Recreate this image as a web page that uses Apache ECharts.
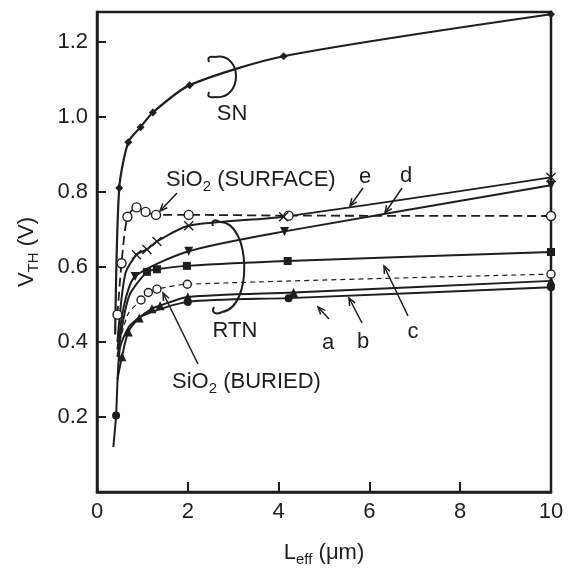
<!DOCTYPE html>
<html><head><meta charset="utf-8">
<script src="https://cdn.jsdelivr.net/npm/echarts@6/dist/echarts.min.js"></script>
<style>html,body{margin:0;padding:0;background:#fff}#c{width:582px;height:572px}</style>
</head><body><div id="c"></div>
<script>
// ---- data (L_eff in um, V_TH in V); *Mark: 1 = point drawn with a marker ----
const snX   = [0.40, 0.49, 0.69, 0.96, 1.23, 2.04, 4.11, 10];
const snY   = [0.42, 0.811, 0.933, 0.973, 1.012, 1.085, 1.162, 1.274];
const snMark= [0, 1, 1, 1, 1, 1, 1, 1];

const surfX   = [0.45, 0.54, 0.67, 0.87, 1.07, 1.30, 2.02, 4.22, 10];
const surfY   = [0.473, 0.61, 0.734, 0.759, 0.747, 0.739, 0.739, 0.737, 0.736];
const surfMark= [1, 1, 1, 1, 1, 1, 1, 1, 1];

const eX   = [0.45, 0.62, 0.87, 1.10, 1.32, 2.02, 4.11, 10];
const eY   = [0.40, 0.58, 0.633, 0.647, 0.668, 0.710, 0.734, 0.839];
const eMark= [0, 0, 1, 1, 1, 1, 1, 1];

const dX   = [0.45, 0.60, 0.84, 2.02, 4.13, 10];
const dY   = [0.38, 0.50, 0.575, 0.642, 0.695, 0.818];
const dMark= [0, 0, 1, 1, 1, 1];

const cX   = [0.45, 0.70, 1.10, 1.32, 1.98, 4.20, 10];
const cY   = [0.36, 0.52, 0.587, 0.594, 0.603, 0.616, 0.640];
const cMark= [0, 0, 1, 1, 1, 1, 1];

const burX   = [0.50, 0.69, 0.97, 1.13, 1.32, 1.99, 10];
const burY   = [0.40, 0.476, 0.512, 0.532, 0.541, 0.554, 0.581];
const burMark= [0, 0, 1, 1, 1, 1, 1];

const bX   = [0.45, 0.55, 0.69, 0.93, 1.21, 1.39, 2.0, 4.33, 10];
const bY   = [0.30, 0.361, 0.427, 0.464, 0.489, 0.497, 0.52, 0.532, 0.563];
const bMark= [0, 1, 1, 1, 1, 1, 1, 1, 1];

const aX   = [0.36, 0.42, 0.50, 0.70, 1.0, 2.0, 4.22, 10];
const aY   = [0.12, 0.204, 0.38, 0.44, 0.47, 0.507, 0.517, 0.546];
const aMark= [0, 1, 0, 0, 0, 1, 1, 1];

const xTickVals = [0, 2, 4, 6, 8, 10];
const yTickVals = [0.2, 0.4, 0.6, 0.8, 1.0, 1.2];

// ---- styling ----
const INK = '#1e1e1e';
const FONT = 'Liberation Sans, Arial, Helvetica, sans-serif';
const crossPath = 'path://M0,1L1,0L5,4L9,0L10,1L6,5L10,9L9,10L5,6L1,10L0,9L4,5Z';

function mk(name, xs, ys, marks, symbol, opt) {
  opt = opt || {};
  const data = xs.map((x, i) => {
    const it = { value: [x, ys[i]] };
    if (!marks[i]) it.symbol = 'none';
    return it;
  });
  return {
    name: name, type: 'line', data: data,
    smooth: 0.25,
    symbol: symbol, symbolSize: opt.size || 8, symbolRotate: opt.rotate || 0,
    showSymbol: true, showAllSymbol: true,
    lineStyle: { color: INK, width: opt.lw || 2, type: opt.dash || 'solid' },
    itemStyle: opt.open ? { color: '#fff', borderColor: INK, borderWidth: 1.4 }
                        : { color: INK, borderColor: INK, borderWidth: 0 },
    emphasis: { disabled: true }, silent: true, z: opt.z || 3
  };
}

const series = [
  mk('SN', snX, snY, snMark, 'diamond', { size: 8, lw: 2.2 }),
  mk('SiO2 surface', surfX, surfY, surfMark, 'circle', { open: true, size: 9, dash: [9, 5], lw: 1.8 }),
  mk('e', eX, eY, eMark, crossPath, { size: 10 }),
  mk('d', dX, dY, dMark, 'triangle', { size: 9, rotate: 180 }),
  mk('c', cX, cY, cMark, 'rect', { size: 8 }),
  mk('SiO2 buried', burX, burY, burMark, 'circle', { open: true, size: 8, dash: [5, 4], lw: 1.2 }),
  mk('b', bX, bY, bMark, 'triangle', { size: 9 }),
  mk('a', aX, aY, aMark, 'circle', { size: 8 })
];

const richBase = {
  n: { fontSize: 22, fontFamily: FONT, color: INK, fill: INK },
  s: { fontSize: 15, fontFamily: FONT, color: INK, fill: INK, padding: [13, 0, 0, 0] }
};

function txt(str, x, y, align) {
  return { type: 'text', silent: true, z: 10,
    style: { text: str, x: x, y: y, align: align || 'center', verticalAlign: 'middle',
             rich: richBase, font: '22px ' + FONT, fill: INK } };
}
function arrow(x1, y1, x2, y2) {
  const ang = Math.atan2(y2 - y1, x2 - x1), L = 8, w = 0.4;
  const p1 = [x2 - L * Math.cos(ang - w), y2 - L * Math.sin(ang - w)];
  const p2 = [x2 - L * Math.cos(ang + w), y2 - L * Math.sin(ang + w)];
  return [
    { type: 'line', silent: true, z: 10, shape: { x1: x1, y1: y1, x2: x2, y2: y2 }, style: { stroke: INK, lineWidth: 1.5 } },
    { type: 'polyline', silent: true, z: 10, shape: { points: [p1, [x2, y2], p2] }, style: { stroke: INK, lineWidth: 1.5, fill: null } }
  ];
}
function bracket(x1, y1, cx1, cy1, cx2, cy2, x2, y2) {
  return { type: 'bezierCurve', silent: true, z: 10,
    shape: { x1: x1, y1: y1, cpx1: cx1, cpy1: cy1, cpx2: cx2, cpy2: cy2, x2: x2, y2: y2 },
    style: { stroke: INK, lineWidth: 2, fill: null } };
}

const graphics = [].concat(
  [txt('{n|SN}', 232, 114)],
  [bracket(215, 57, 243, 52, 243, 100, 215, 97)],
  [bracket(209, 62, 207, 57, 210, 56, 215, 57), bracket(209, 92, 207, 97, 210, 98, 215, 97)],
  [txt('{n|SiO}{s|2}{n| (SURFACE)}', 166, 180, 'left')],
  [txt('{n|e}', 365, 177), txt('{n|d}', 406, 176)],
  arrow(177, 193, 160, 211),
  arrow(363, 188, 350, 206),
  arrow(402, 188, 385, 213),
  [bracket(220, 222, 251, 222, 253, 308, 222, 312)],
  [bracket(213, 226, 211, 220, 215, 219, 220, 222), bracket(214, 307, 211, 313, 216, 315, 222, 312)],
  [txt('{n|RTN}', 235, 331)],
  [txt('{n|a}', 328, 343), txt('{n|b}', 363, 342), txt('{n|c}', 413, 332)],
  arrow(329, 319, 318, 307),
  arrow(362, 323, 349, 298),
  arrow(408, 316, 384, 266),
  [txt('{n|SiO}{s|2}{n| (BURIED)}', 172, 382, 'left')],
  arrow(198, 364, 163, 293)
);

const chart = echarts.init(document.getElementById('c'), null, { renderer: 'canvas' });
chart.setOption({
  backgroundColor: '#fff',
  animation: false,
  grid: { left: 97, right: 31, top: 12, bottom: 73, show: true, borderColor: INK, borderWidth: 2.5, backgroundColor: 'transparent' },
  xAxis: {
    type: 'value', min: 0, max: 10, interval: 2,
    name: '{n|L}{s|eff}{n| (μm)}', nameLocation: 'middle', nameGap: 47,
    nameTextStyle: { rich: richBase },
    axisLine: { show: true, lineStyle: { color: INK, width: 2.5 } },
    axisTick: { show: true, inside: true, length: 10, lineStyle: { color: INK, width: 2 } },
    splitLine: { show: false },
    axisLabel: { fontSize: 22, fontFamily: FONT, color: INK, margin: 9,
      formatter: v => (xTickVals.indexOf(v) >= 0 ? String(v) : '') }
  },
  yAxis: {
    type: 'value', min: 0, max: 1.28, interval: 0.2,
    name: '{n|V}{s|TH}{n| (V)}', nameLocation: 'middle', nameGap: 56, nameRotate: 90,
    nameTextStyle: { rich: richBase },
    axisLine: { show: true, lineStyle: { color: INK, width: 2.5 } },
    axisTick: { show: true, inside: true, length: 9, lineStyle: { color: INK, width: 2 } },
    splitLine: { show: false },
    axisLabel: { fontSize: 22, fontFamily: FONT, color: INK, margin: 9, showMaxLabel: false,
      formatter: v => { const t = yTickVals.find(u => Math.abs(u - v) < 1e-6); return t === undefined ? '' : t.toFixed(1); } }
  },
  series: series,
  graphic: graphics
});
</script></body></html>
